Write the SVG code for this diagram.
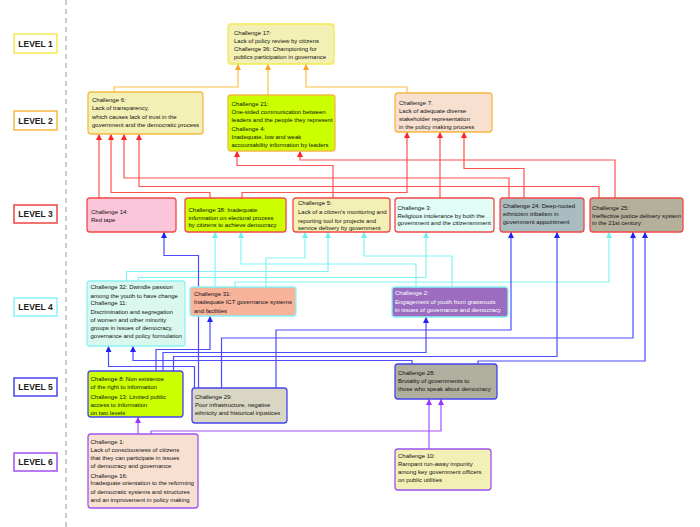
<svg xmlns="http://www.w3.org/2000/svg" width="700" height="527" viewBox="0 0 700 527">
<style>
text{font-family:"Liberation Sans",Arial,sans-serif;font-size:6px;fill:#111}
.lv{font-size:8.5px;font-weight:bold;text-anchor:middle;fill:#222}
.lb{fill:#fff;stroke-width:1.5}
.bx{stroke-width:1.3}
.cn polyline{fill:none;stroke-width:1.2}
.o{stroke:#fbbf47}
.r{stroke:#ff5252}
.c{stroke:#84f4f4}
.b{stroke:#4d4dff}
.p{stroke:#a650ff}
.w{fill:#fff}
</style>
<defs>
<marker id="ao" markerUnits="userSpaceOnUse" markerWidth="6" markerHeight="6" refX="6" refY="3" orient="auto"><path d="M0,0 L6,3 L0,6 z" fill="#f5a623"/></marker>
<marker id="ar" markerUnits="userSpaceOnUse" markerWidth="6" markerHeight="6" refX="6" refY="3" orient="auto"><path d="M0,0 L6,3 L0,6 z" fill="#ff2222"/></marker>
<marker id="ac" markerUnits="userSpaceOnUse" markerWidth="6" markerHeight="6" refX="6" refY="3" orient="auto"><path d="M0,0 L6,3 L0,6 z" fill="#6ef0f0"/></marker>
<marker id="ab" markerUnits="userSpaceOnUse" markerWidth="6" markerHeight="6" refX="6" refY="3" orient="auto"><path d="M0,0 L6,3 L0,6 z" fill="#2222ee"/></marker>
<marker id="ap" markerUnits="userSpaceOnUse" markerWidth="6" markerHeight="6" refX="6" refY="3" orient="auto"><path d="M0,0 L6,3 L0,6 z" fill="#9933ff"/></marker>
</defs>
<rect width="700" height="527" fill="#fff"/>
<line x1="66" y1="0" x2="66" y2="527" stroke="#aaa" stroke-width="1.2" stroke-dasharray="5,4"/>
<g id="levels">
<rect class="lb" x="14" y="34" width="43" height="19" stroke="#f2ea50"/><text class="lv" x="35.5" y="46.5">LEVEL 1</text>
<rect class="lb" x="14" y="111" width="43" height="19" stroke="#f5b942"/><text class="lv" x="35.5" y="123.5">LEVEL 2</text>
<rect class="lb" x="14" y="205" width="43" height="18" stroke="#ee4444"/><text class="lv" x="35.5" y="217">LEVEL 3</text>
<rect class="lb" x="14" y="298" width="43" height="18" stroke="#88f4f4"/><text class="lv" x="35.5" y="310">LEVEL 4</text>
<rect class="lb" x="14" y="378" width="43" height="18" stroke="#4444ee"/><text class="lv" x="35.5" y="390">LEVEL 5</text>
<rect class="lb" x="14" y="453" width="43" height="18" stroke="#a050f0"/><text class="lv" x="35.5" y="465">LEVEL 6</text>
</g>
<g id="connectors" class="cn">
<polyline class="o" points="114,92 114,87 238,87 238,64" marker-end="url(#ao)"/>
<polyline class="o" points="268,95 268,64" marker-end="url(#ao)"/>
<polyline class="o" points="407,93 407,87 306,87 306,64" marker-end="url(#ao)"/>
<polyline class="r" points="99,198 99,134" marker-end="url(#ar)"/>
<polyline class="r" points="210,198 210,192.5 111,192.5 111,134" marker-end="url(#ar)"/>
<polyline class="r" points="509,198 509,178 124,178 124,134" marker-end="url(#ar)"/>
<polyline class="r" points="599,198 599,186.5 139,186.5 139,134" marker-end="url(#ar)"/>
<polyline class="r" points="333,198 333,165.5 237,165.5 237,151" marker-end="url(#ar)"/>
<polyline class="r" points="615,198 615,160 300,160 300,151" marker-end="url(#ar)"/>
<polyline class="r" points="242,198 242,192.5 407,192.5 407,132" marker-end="url(#ar)"/>
<polyline class="r" points="440,198 440,132" marker-end="url(#ar)"/>
<polyline class="r" points="524,198 524,168.5 464,168.5 464,132" marker-end="url(#ar)"/>
<polyline class="c" points="215,287 215,232" marker-end="url(#ac)"/>
<polyline class="c" points="416,287 416,264 241,264 241,232" marker-end="url(#ac)"/>
<polyline class="c" points="266,287 266,258 305,258 305,232" marker-end="url(#ac)"/>
<polyline class="c" points="126.5,281 126.5,271.5 328,271.5 328,232" marker-end="url(#ac)"/>
<polyline class="c" points="452,287 452,256 364,256 364,232" marker-end="url(#ac)"/>
<polyline class="c" points="138.5,281 138.5,277.5 426,277.5 426,232" marker-end="url(#ac)"/>
<polyline class="c" points="235,287 235,282 609,282 609,232" marker-end="url(#ac)"/>
<polyline class="b" points="198.5,388 198.5,255.5 164,255.5 164,232" marker-end="url(#ab)"/>
<polyline class="b" points="156,371 156,349.5 210,349.5 210,316" marker-end="url(#ab)"/>
<polyline class="b" points="194.5,388 194.5,366.5 108.5,366.5 108.5,346" marker-end="url(#ab)"/>
<polyline class="b" points="412,364 412,360.5 133,360.5 133,346" marker-end="url(#ab)"/>
<polyline class="b" points="163,371 163,352.5 426,352.5 426,317" marker-end="url(#ab)"/>
<polyline class="b" points="173.5,371 173.5,356.5 557,356.5 557,232" marker-end="url(#ab)"/>
<polyline class="b" points="221.5,388 221.5,338 633,338 633,232" marker-end="url(#ab)"/>
<polyline class="b" points="276,388 276,330 511,330 511,232" marker-end="url(#ab)"/>
<polyline class="b" points="478,364 478,361 645,361 645,232" marker-end="url(#ab)"/>
<polyline class="p" points="138,434 138,417" marker-end="url(#ap)"/>
<polyline class="p" points="151,434 151,431 441,431 441,399" marker-end="url(#ap)"/>
<polyline class="p" points="429,449 429,399" marker-end="url(#ap)"/>
</g>
<g id="c17">
<rect class="bx" x="228" y="24" width="106" height="40" rx="3" fill="#f3f0b5" stroke="#f2ea50"/>
<text x="234" y="34.5">Challenge 17:</text><text x="234" y="42.5">Lack of policy review by citizens</text><text x="234" y="50.5">Challenge 36: Championing for</text><text x="234" y="58.5">publics participation in governance</text>
</g>
<g id="c6">
<rect class="bx" x="88" y="92" width="115" height="42" rx="3" fill="#f3f0b5" stroke="#f5b942"/>
<text x="92" y="102">Challenge 6:</text><text x="92" y="110.3">Lack of transparency,</text><text x="92" y="118.6">which causes lack of trust in the</text><text x="92" y="126.5">government and the democratic process</text>
</g>
<g id="c21">
<rect class="bx" x="228" y="95" width="107" height="56" rx="3" fill="#ccff00" stroke="#f5b942"/>
<text x="231.5" y="106">Challenge 21:</text><text x="231.5" y="113.8">One-sided communication between</text><text x="231.5" y="121.5">leaders and the people they represent</text><text x="231.5" y="131">Challenge 4:</text><text x="231.5" y="139">Inadequate, low and weak</text><text x="231.5" y="147">accountability information by leaders</text>
</g>
<g id="c7">
<rect class="bx" x="395" y="93" width="97" height="39" rx="3" fill="#f7e0d0" stroke="#f5b942"/>
<text x="399" y="104.7">Challenge 7:</text><text x="399" y="112.7">Lack of adequate diverse</text><text x="399" y="120.7">stakeholder representation</text><text x="399" y="128.7">in the policy making process</text>
</g>
<g id="c14">
<rect class="bx" x="87" y="198" width="89" height="34" rx="3" fill="#fcc6da" stroke="#f2484a"/>
<text x="91" y="213.7">Challenge 14:</text><text x="91" y="222">Red tape</text>
</g>
<g id="c38">
<rect class="bx" x="185" y="198" width="101" height="34" rx="3" fill="#ccff00" stroke="#f2484a"/>
<text x="188.5" y="212">Challenge 38: Inadequate</text><text x="188.5" y="219.5">information on electoral process</text><text x="188.5" y="227.3">by citizens to achieve democracy</text>
</g>
<g id="c5">
<rect class="bx" x="293" y="198" width="97" height="34" rx="3" fill="#f3f0b5" stroke="#f2484a"/>
<text x="298" y="205.3">Challenge 5:</text><text x="298" y="214.3">Lack of a citizen’s monitoring and</text><text x="298" y="222.5">reporting tool for projects and</text><text x="298" y="230.3">service delivery by government</text>
</g>
<g id="c3">
<rect class="bx" x="395" y="198" width="99" height="34" rx="3" fill="#e0fcf5" stroke="#f2484a"/>
<text x="397.5" y="209.7">Challenge 3:</text><text x="397.5" y="217.7">Religious intolerance by both the</text><text x="397.5" y="225.3">government and the citizensmment</text>
</g>
<g id="c24">
<rect class="bx" x="500" y="198" width="84" height="34" rx="3" fill="#a9bcbf" stroke="#f2484a"/>
<text x="503" y="207.7">Challenge 24: Deep-rooted</text><text x="503" y="216">ethnicism tribalism in</text><text x="503" y="224.3">government appointment</text>
</g>
<g id="c25">
<rect class="bx" x="590" y="198" width="93" height="34" rx="3" fill="#b5b09c" stroke="#f2484a"/>
<text x="592" y="209.7">Challenge 25:</text><text x="592" y="218">Ineffective justice delivery system</text><text x="592" y="225.3">in the 21st century</text>
</g>
<g id="c32">
<rect class="bx" x="87" y="281" width="98" height="65" rx="3" fill="#daf8ee" stroke="#88f4f4"/>
<text x="90.5" y="289.3">Challenge 32: Dwindle passion</text><text x="90.5" y="297.7">among the youth to have change</text><text x="90.5" y="305.3">Challenge 11:</text><text x="90.5" y="313.7">Discrimination and segregation</text><text x="90.5" y="322">of women and other minority</text><text x="90.5" y="330">groups in issues of democracy,</text><text x="90.5" y="337.7">governance and policy formulation</text>
</g>
<g id="c31">
<rect class="bx" x="190" y="287" width="106" height="29" rx="3" fill="#f8b39b" stroke="#88f4f4"/>
<text x="194" y="296.3">Challenge 31:</text><text x="194" y="304.3">Inadequate ICT governance systems</text><text x="194" y="312.7">and facilities</text>
</g>
<g id="c2">
<rect class="bx" x="392" y="287" width="116" height="30" rx="3" fill="#9b6cbf" stroke="#88f4f4"/>
<text class="w" x="395" y="295.3">Challenge 2:</text><text class="w" x="395" y="303.7">Engagement of youth from grassroots</text><text class="w" x="395" y="312">in issues of governance and democracy</text>
</g>
<g id="c8">
<rect class="bx" x="88" y="371" width="95" height="46" rx="3" fill="#ccff00" stroke="#4444ee"/>
<text x="90.5" y="381">Challenge 8: Non existence</text><text x="90.5" y="388.7">of the right to information</text><text x="90.5" y="399.3">Challenge 13: Limited public</text><text x="90.5" y="407.3">access to information</text><text x="90.5" y="415.3">on two levels</text>
</g>
<g id="c29">
<rect class="bx" x="192" y="388" width="95" height="35" rx="3" fill="#d9d6c3" stroke="#4444ee"/>
<text x="195" y="398.7">Challenge 29:</text><text x="195" y="407">Poor infrastructure, negative</text><text x="195" y="414.7">ethnicity and historical injustices</text>
</g>
<g id="c28">
<rect class="bx" x="395" y="364" width="102" height="35" rx="3" fill="#b0ae9c" stroke="#4444ee"/>
<text x="398" y="374.7">Challenge 28:</text><text x="398" y="383">Brutality of governments to</text><text x="398" y="391">those who speak about democracy</text>
</g>
<g id="c1">
<rect class="bx" x="88" y="434" width="110" height="74" rx="3" fill="#f7e0d0" stroke="#a050f0"/>
<text x="90.5" y="444">Challenge 1:</text><text x="90.5" y="451.7">Lack of consciousness of citizens</text><text x="90.5" y="459.7">that they can participate in issues</text><text x="90.5" y="467.7">of democracy and governance</text><text x="90.5" y="477.7">Challenge 16:</text><text x="90.5" y="485.3">Inadequate orientation to the reforming</text><text x="90.5" y="493.7">of democratic systems and structures</text><text x="90.5" y="501.7">and an improvement in policy making</text>
</g>
<g id="c10">
<rect class="bx" x="395" y="449" width="96" height="41" rx="3" fill="#f3f0b5" stroke="#a050f0"/>
<text x="398" y="457.7">Challenge 10:</text><text x="398" y="465.7">Rampant run-away impunity</text><text x="398" y="474">among key government officers</text><text x="398" y="482">on public utilities</text>
</g>
</svg>
